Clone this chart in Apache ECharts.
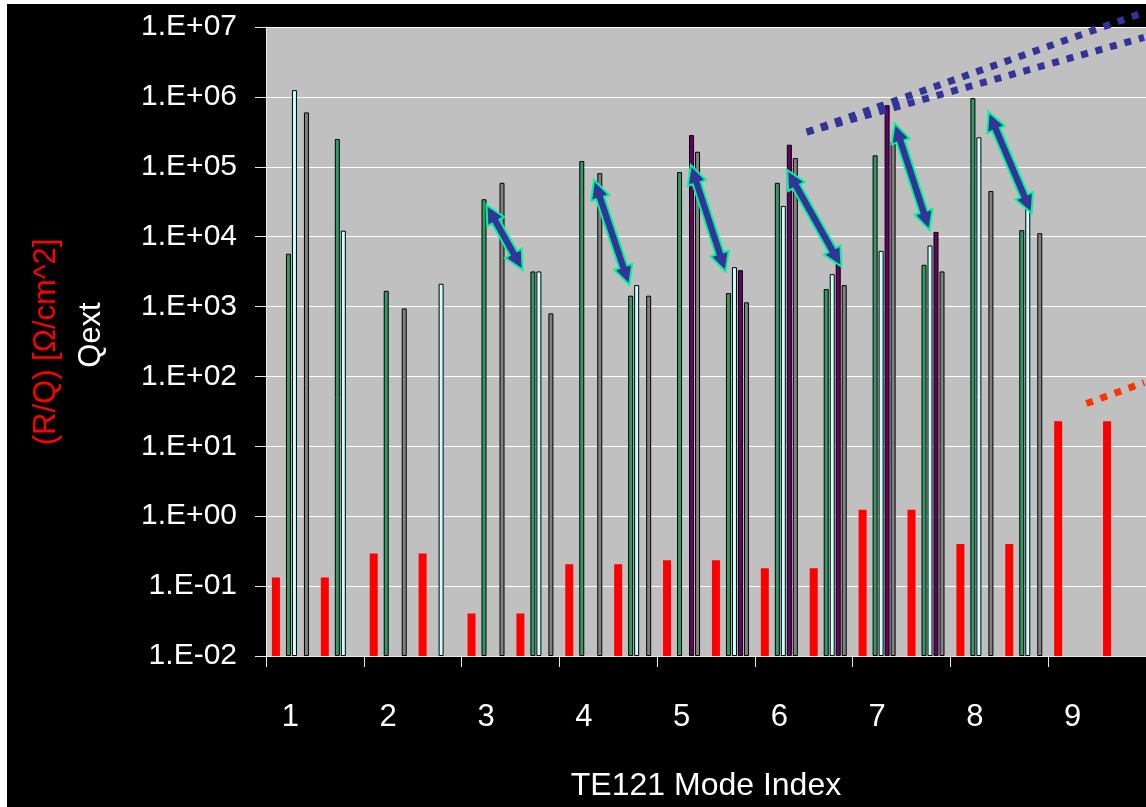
<!DOCTYPE html>
<html>
<head>
<meta charset="utf-8">
<script src="https://cdn.jsdelivr.net/npm/echarts@6/dist/echarts.min.js"></script>
<style>
html,body{margin:0;padding:0;background:#ffffff;}
#frame{position:absolute;left:7px;top:4px;width:1139px;height:803px;background:#000000;}
#chart{position:absolute;left:0;top:0;width:1146px;height:807px;}
</style>
</head>
<body>
<div id="frame"></div>
<div id="chart"></div>
<script>
// ---- data ----
// each TE121 mode index has two half-slots on the category axis
const modeLabels = ['1','1','2','2','3','3','4','4','5','5','6','6','7','7','8','8','9','9'];
const rqValues    = [0.133,0.133,0.292,0.292,0.0406,0.0406,0.206,0.206,0.234,0.234,0.18,0.18,1.24,1.24,0.40,0.40,22.9,22.9];
const qextGreen   = [5700,250000,1680,null,34300,3180,121000,1430,84000,1560,59000,1780,146000,3960,960000,12400,null,null];
const qextWhite   = [1250000,12200,null,2120,null,3180,null,2030,null,3660,27500,2910,6270,7460,264000,25000,null,null];
const qextPurple  = [null,null,null,null,null,null,null,null,284000,3320,207000,6600,760000,11700,null,null,null,null];
const qextGray    = [600000,null,940,null,59000,798,81000,1430,164000,1150,133000,2030,228000,3180,45000,11200,null,null];

// annotations (x in half-slot units along the mode axis, y in data units)
const arrowStartX = [4.51, 6.71, 8.69, 10.66, 12.86, 14.78];
const arrowStartY = [28400, 64700, 106000, 90000, 418000, 610000];
const arrowEndX   = [5.25, 7.43, 9.40, 11.77, 13.57, 15.66];
const arrowEndY   = [3360, 2050, 3170, 3740, 12500, 21600];
const trendUpperX = [11.06, 17.96];
const trendUpperY = [313000, 16200000];
const trendLowerX = [11.06, 17.96];
const trendLowerY = [313000, 7100000];
const trendRqX    = [16.78, 17.96];
const trendRqY    = [40.9, 81.7];

const zip = (xs, ys) => xs.map((x, i) => [x, ys[i]]);
const arrowData = arrowStartX.map((x, i) => [x, arrowStartY[i], arrowEndX[i], arrowEndY[i]]);

function fmtExp(v) {
  const e = Math.round(Math.log10(v));
  const s = e < 0 ? '-' : '+';
  const a = Math.abs(e);
  return '1.E' + s + (a < 10 ? '0' + a : a);
}

function renderArrow(params, api) {
  const a = api.coord([api.value(0), api.value(1)]);
  const b = api.coord([api.value(2), api.value(3)]);
  const dx = b[0] - a[0], dy = b[1] - a[1];
  const L = Math.hypot(dx, dy);
  const ux = dx / L, uy = dy / L, nx = -uy, ny = ux;
  const hl = 19, hw = 9.5, sw = 4.2;
  const P = (p, t, s) => [p[0] + ux * t + nx * s, p[1] + uy * t + ny * s];
  const pts = [a, P(a, hl, hw), P(a, hl, sw), P(b, -hl, sw), P(b, -hl, hw), b,
               P(b, -hl, -hw), P(b, -hl, -sw), P(a, hl, -sw), P(a, hl, -hw)];
  return { type: 'polygon', shape: { points: pts },
           style: { fill: '#333399', stroke: '#00F59B', lineWidth: 2, lineJoin: 'miter' } };
}

const FONT = 'Liberation Sans, Arial, sans-serif';
const barBorder = { borderColor: '#000000', borderWidth: 1 };

const chart = echarts.init(document.getElementById('chart'), null, { renderer: 'canvas' });
chart.setOption({
  backgroundColor: 'transparent',
  animation: false,
  grid: { left: 266, right: -2, top: 27, bottom: 150, show: true, backgroundColor: '#C0C0C0', borderWidth: 0 },
  xAxis: [{
    type: 'category',
    data: modeLabels,
    boundaryGap: true,
    axisLine: { show: true, lineStyle: { color: '#E8E8E8', width: 1 } },
    axisTick: { show: true, interval: 1, length: 11, lineStyle: { color: '#E8E8E8' } },
    axisLabel: { interval: 1, color: '#FFFFFF', fontSize: 31, fontFamily: FONT, margin: 46 },
    splitLine: { show: false },
    name: 'TE121 Mode Index',
    nameLocation: 'middle',
    nameGap: 114,
    nameTextStyle: { color: '#FFFFFF', fontSize: 32, fontFamily: FONT }
  }, {
    type: 'value', min: 0, max: 18, show: false,
    splitLine: { show: false }, axisLine: { show: false }
  }],
  yAxis: [{
    type: 'log',
    logBase: 10,
    min: 0.01,
    max: 1e7,
    startValue: 0.01,
    axisLine: { show: true, lineStyle: { color: '#E8E8E8', width: 1 } },
    axisTick: { show: true, length: 11, lineStyle: { color: '#E8E8E8' } },
    axisLabel: { color: '#FFFFFF', fontSize: 30, fontFamily: FONT, margin: 29, formatter: fmtExp },
    splitLine: { show: true, lineStyle: { color: '#FFFFFF', width: 1 } },
    minorTick: { show: false }
  }],
  graphic: [
    { type: 'text', x: 46, y: 342, rotation: Math.PI / 2,
      style: { text: '(R/Q) [Ω/cm^2]', fill: '#FF0000', font: '31px ' + FONT, align: 'center', verticalAlign: 'middle' } },
    { type: 'text', x: 91, y: 335, rotation: Math.PI / 2,
      style: { text: 'Qext', fill: '#FFFFFF', font: '31px ' + FONT, align: 'center', verticalAlign: 'middle' } }
  ],
  series: [
    { name: 'R/Q', type: 'bar', data: rqValues, barWidth: 8, itemStyle: { color: '#FF0000' } },
    { name: 'spacer', type: 'bar', data: [], barWidth: 3.67 },
    { name: 'Qext A', type: 'bar', data: qextGreen, barWidth: 5, itemStyle: Object.assign({ color: '#339966' }, barBorder) },
    { name: 'Qext B', type: 'bar', data: qextWhite, barWidth: 5, itemStyle: Object.assign({ color: '#CCFFFF' }, barBorder) },
    { name: 'Qext C', type: 'bar', data: qextPurple, barWidth: 5, itemStyle: Object.assign({ color: '#660066' }, barBorder) },
    { name: 'Qext D', type: 'bar', data: qextGray, barWidth: 5, barGap: '20%', itemStyle: Object.assign({ color: '#808080' }, barBorder) },
    { name: 'trend upper', type: 'line', xAxisIndex: 1, data: zip(trendUpperX, trendUpperY), showSymbol: false, clip: false, z: 6,
      lineStyle: { color: '#333399', width: 7, type: [7, 8], cap: 'butt' } },
    { name: 'trend lower', type: 'line', xAxisIndex: 1, data: zip(trendLowerX, trendLowerY), showSymbol: false, clip: false, z: 6,
      lineStyle: { color: '#333399', width: 7, type: [7, 8], cap: 'butt' } },
    { name: 'trend rq', type: 'line', xAxisIndex: 1, data: zip(trendRqX, trendRqY), showSymbol: false, clip: false, z: 6,
      lineStyle: { color: '#FF3300', width: 7, type: [7, 8], cap: 'butt' } },
    { name: 'arrows', type: 'custom', xAxisIndex: 1, data: arrowData, renderItem: renderArrow, clip: false, z: 7,
      encode: { x: [0, 2], y: [1, 3] } }
  ]
});
</script>
</body>
</html>
